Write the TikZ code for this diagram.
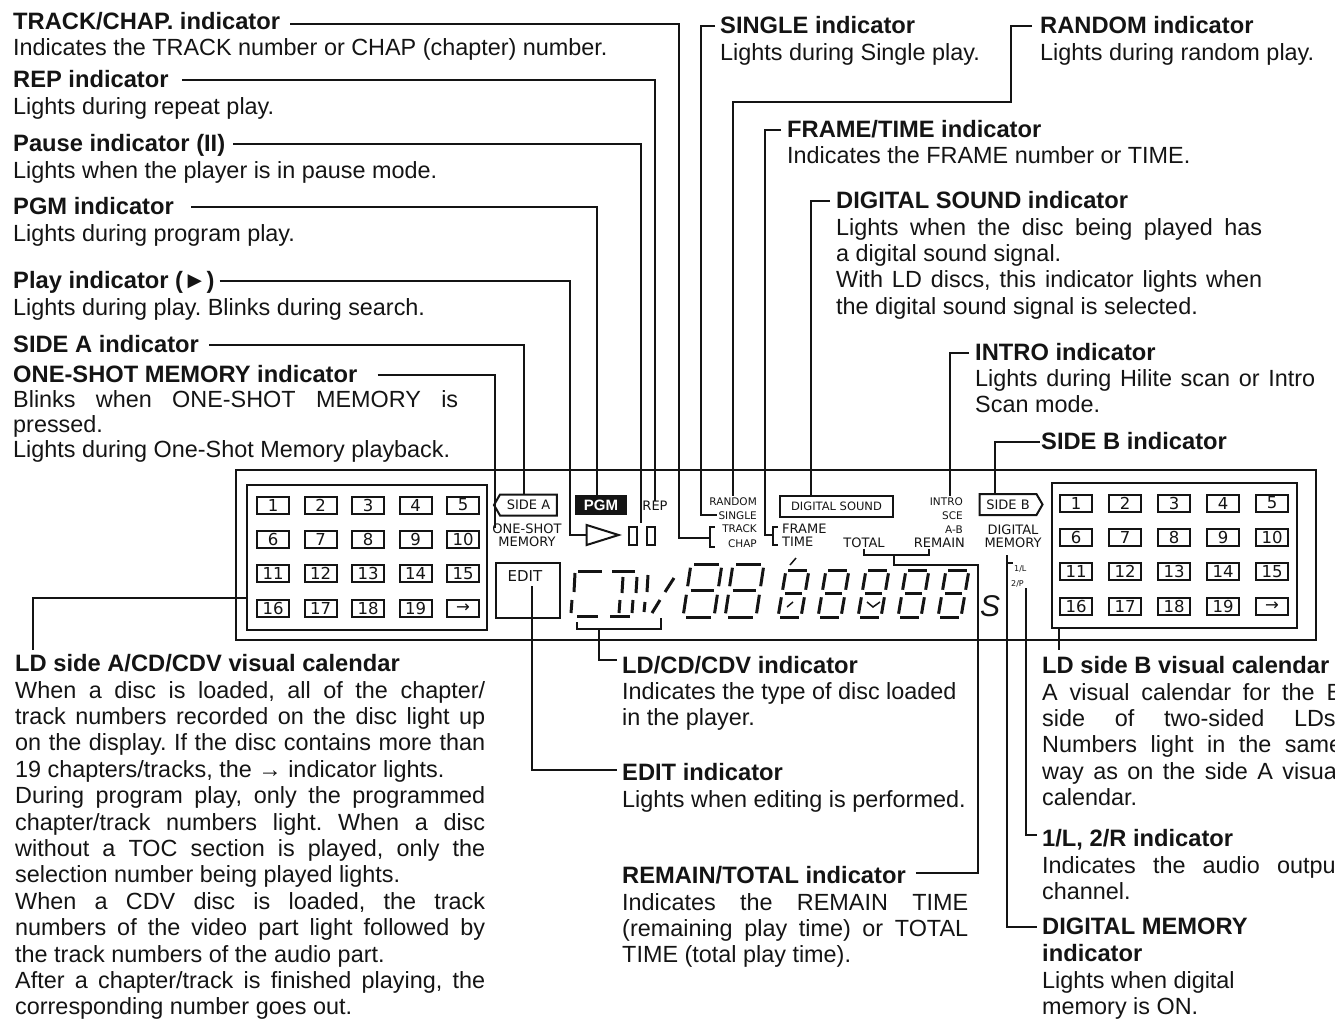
\documentclass[tikz,border=0pt]{standalone}
\usepackage{fontspec}
\setmainfont{Liberation Sans}
\newfontfamily\lcdfont{DejaVu Sans}
\usetikzlibrary{positioning, shapes.geometric, shapes.symbols}
\definecolor{ink}{HTML}{141414}
\tolerance=10000
\hyphenpenalty=10000
\frenchspacing

\newcommand{\lcddigit}[4]{%
  \foreach \ua/\va/\ub/\vb in {.1/1/.9/1, .12/.5/.88/.5, .1/0/.9/0, 0/.93/0/.58, 1/.93/1/.58, 0/.42/0/.07, 1/.42/1/.07}
    \draw[lcdseg] ({#1+\ua*#3+\va*8},{#2-\va*#4}) -- ({#1+\ub*#3+\vb*8},{#2-\vb*#4});%
}

\begin{document}
\begin{tikzpicture}[
    x=1pt, y=-1pt,
    color=ink,
    titletext/.style={
        anchor=base west,
        inner sep=0pt,
        text height=19pt,
        text depth=5pt,
        font=\bfseries\fontsize{23.7}{26}\selectfont
    },
    bodytext/.style={
        inner sep=0pt,
        align=justify,
        text width=#1,
        font=\fontsize{23.4}{26.4}\selectfont
    },
    bodytext/.default=610pt,
    leader/.style={draw, line width=1.9pt},
    fromtitle/.style={leader, shorten <=10pt},
    totitle/.style={leader, shorten >=5pt},
    lcdtext/.style={
        inner sep=1pt,
        text height=8pt,
        text depth=0pt,
        font=\lcdfont\fontsize{10.5}{11}\selectfont
    },
    lcdwide/.style={lcdtext, font=\lcdfont\fontsize{13}{13}\selectfont},
    lcdbox/.style={draw, line width=2pt, inner sep=0pt},
    lcdtag/.style={
        lcdbox,
        signal,
        signal to=#1,
        signal pointer angle=120,
        minimum width=63pt,
        minimum height=21pt,
        font=\lcdfont\fontsize{13}{13}\selectfont
    },
    lcdseg/.style={line width=3pt},
    thinmark/.style={line width=1.5pt},
    calframe/.style={draw, line width=2.6pt, inner sep=0pt},
    calcell/.style={
        draw,
        line width=2pt,
        inner sep=0pt,
        minimum width=32pt,
        minimum height=17pt,
        font=\lcdfont\fontsize{16.5}{17}\selectfont
    }
]
\useasboundingbox (0,0) rectangle (1335,1023);

\node[draw, line width=2.6pt, inner sep=0pt, minimum width=1080pt, minimum height=170pt] (display) at (776,555) {};
\node[calframe, minimum width=240pt, minimum height=145pt] (calA) at (367,557.5) {};
\node[calframe, minimum width=245pt, minimum height=145pt] (calB) at (1174.5,555.5) {};

\foreach \lbl [count=\n from 0] in {1,2,3,4,5,6,7,8,9,10,11,12,13,14,15,16,17,18,19,→} {
    \pgfmathtruncatemacro{\col}{mod(\n,5)}
    \pgfmathtruncatemacro{\row}{int(\n/5)}
    \node[calcell] (cellA\n) at ({273+47.5*\col},{505+34.4*\row}) {\lbl};
    \node[calcell] (cellB\n) at ({1076+49*\col},{503+34.4*\row}) {\lbl};
}

\node[lcdtag=west] (iSideA) at (528.5,505) {SIDE A};
\node[lcdtag=east] (iSideB) at (1008,504.5) {SIDE B};
\node[fill=ink, text=white, inner sep=0pt, minimum width=52pt, minimum height=20pt, font=\bfseries\fontsize{15}{16}\selectfont] (iPgm) at (601,505) {PGM};
\node[lcdwide] (iRep) at (655,506) {REP};
\node[lcdwide, align=center] (iOneShot) at (527,542) {ONE-SHOT\\MEMORY};
\node[draw, line width=2pt, isosceles triangle, isosceles triangle stretches, inner sep=0pt, minimum width=20pt, minimum height=32pt] (iPlay) at (594,535) {};
\node[lcdbox, minimum width=8pt, minimum height=18pt] (iPauseA) at (633,536) {};
\node[lcdbox, minimum width=8pt, minimum height=18pt] (iPauseB) at (651,536) {};
\node[lcdbox, minimum width=64pt, minimum height=55pt] (iEdit) at (528,590.5) {};
\node[lcdtext, font=\lcdfont\fontsize{15}{15}\selectfont] (iEditText) at (525,577) {EDIT};
\node[lcdtext, anchor=east] (iRandom) at (758,501) {RANDOM};
\node[lcdtext, anchor=east] (iSingle) at (758,515) {SINGLE};
\node[lcdtext, anchor=east] (iTrack) at (758,528) {TRACK};
\node[lcdtext, anchor=east] (iChap) at (758,543) {CHAP};
\node[lcdwide, anchor=west] (iFrame) at (781,529) {FRAME};
\node[lcdwide, anchor=west] (iTime) at (781,542) {TIME};
\node[lcdbox, minimum width=113pt, minimum height=21pt, font=\lcdfont\fontsize{11.5}{12}\selectfont] (iDigital) at (836.5,506.5) {DIGITAL SOUND};
\node[lcdtext, anchor=east] (iIntro) at (964,501) {INTRO};
\node[lcdtext, anchor=east] (iSce) at (964,515) {SCE};
\node[lcdtext, anchor=east] (iAb) at (964,529) {A-B};
\node[lcdwide] (iTotal) at (864,543) {TOTAL};
\node[lcdwide, anchor=east] (iRemain) at (966,543) {REMAIN};
\node[lcdwide, align=center] (iMemory) at (1013,543.5) {DIGITAL\\MEMORY};
\node[lcdtext, anchor=west, font=\lcdfont\fontsize{8}{9}\selectfont] (iOneL) at (1013,567) {1/L};
\node[lcdtext, anchor=west, font=\lcdfont\fontsize{8}{9}\selectfont] (iTwoR) at (1010,582) {2/P};
\node[inner sep=0pt, font=\itshape\fontsize{30}{30}\selectfont] (iSecond) at (990,606) {S};

\lcddigit{683}{617}{31}{53}
\lcddigit{725}{617}{31}{53}
\foreach \dx in {778,818,858,898,938} {
    \lcddigit{\dx}{617}{23}{47}
}

\foreach \xa/\ya/\xb/\yb in {578/571/602/571, 575/573/574/592, 572/600/571/613, 577/616/598/616,
    612/571/635/571, 623/577/622/593, 637/577/636/593, 620/600/619/613, 633/600/632/613, 610/616/630/616,
    648/575/647/592, 645/602/644/612, 660/600/652/613, 674/578/665/592}
    \draw[lcdseg] (\xa,\ya) -- (\xb,\yb);
\draw[thinmark] (796,558) -- (790,565);
\draw[thinmark] (793,602) -- (787,607);
\draw[thinmark] (867,602) -- (873,607) -- (880,602);

\coordinate (brTrack) at (710,538);
\coordinate (brFrame) at (773,535);
\coordinate (brLd) at (599,629);
\coordinate (brRemain) at (894,555);
\coordinate (portCalA) at (247,598);
\coordinate (endCalA) at (33,650);
\coordinate (portCalB) at (1059,628);
\coordinate (endCalB) at (1059,650);
\coordinate (portEdit) at (532,586);
\coordinate (portOneShot) at (495,528);
\coordinate (portOneTwo) at (1026,588);
\coordinate (portMemory) at (1007,555);
\coordinate (portPause) at (641,523);

\draw[leader] (715,527) -- (710,527) -- (710,547) -- (715,547);
\draw[leader] (778,527) -- (773,527) -- (773,545) -- (778,545);
\draw[leader] (577,622) -- (577,629) -- (661,629) -- (661,618);
\draw[leader] (864,549) -- (864,555) -- (929,555) -- (929,549);
\draw[thinmark] (1007,563) -- (1013,563);

\node[titletext] (tTrack) at (13,29) {TRACK/CHAP. indicator};
\node[bodytext, below=26pt of tTrack.base west, anchor=base west] (bTrack) {Indicates the TRACK number or CHAP (chapter) number.};
\node[titletext] (tRep) at (13,87) {REP indicator};
\node[bodytext, below=27pt of tRep.base west, anchor=base west] (bRep) {Lights during repeat play.};
\node[titletext] (tPause) at (13,151) {Pause indicator (II)};
\node[bodytext, below=27pt of tPause.base west, anchor=base west] (bPause) {Lights when the player is in pause mode.};
\node[titletext] (tPgm) at (13,214) {PGM indicator};
\node[bodytext, below=27pt of tPgm.base west, anchor=base west] (bPgm) {Lights during program play.};
\node[titletext] (tPlay) at (13,288) {Play indicator (►)};
\node[bodytext, below=27pt of tPlay.base west, anchor=base west] (bPlay) {Lights during play. Blinks during search.};
\node[titletext] (tSideA) at (13,352) {SIDE A indicator};
\node[titletext] (tOneShot) at (13,382) {ONE-SHOT MEMORY indicator};
\node[bodytext=445pt, below=25pt of tOneShot.base west, anchor=base west, font=\fontsize{23.4}{25.2}\selectfont] (bOneShot) {Blinks when ONE-SHOT MEMORY is\linebreak pressed.\\ Lights during One-Shot Memory playback.};

\node[titletext] (tSingle) at (720,33) {SINGLE indicator};
\node[bodytext=270pt, below=27pt of tSingle.base west, anchor=base west] (bSingle) {Lights during Single play.};
\node[titletext] (tRandom) at (1040,33) {RANDOM indicator};
\node[bodytext=290pt, below=27pt of tRandom.base west, anchor=base west] (bRandom) {Lights during random play.};
\node[titletext] (tFrame) at (787,137) {FRAME/TIME indicator};
\node[bodytext=500pt, below=26pt of tFrame.base west, anchor=base west] (bFrame) {Indicates the FRAME number or TIME.};
\node[titletext] (tDigital) at (836,208) {DIGITAL SOUND indicator};
\node[bodytext=426pt, below=27pt of tDigital.base west, anchor=base west] (bDigital) {Lights when the disc being played has\linebreak a digital sound signal.\\ With LD discs, this indicator lights when\linebreak the digital sound signal is selected.};
\node[titletext] (tIntro) at (975,360) {INTRO indicator};
\node[bodytext=340pt, below=26pt of tIntro.base west, anchor=base west] (bIntro) {Lights during Hilite scan or Intro\linebreak Scan mode.};
\node[titletext] (tSideB) at (1041,449) {SIDE B indicator};

\node[titletext] (tCalA) at (15,671) {LD side A/CD/CDV visual calendar};
\node[bodytext=470pt, below=27pt of tCalA.base west, anchor=base west] (bCalA) {When a disc is loaded, all of the chapter/\linebreak
    track numbers recorded on the disc light up\linebreak
    on the display. If the disc contains more than\linebreak
    19 chapters/tracks, the → indicator lights.\\
    During program play, only the programmed\linebreak
    chapter/track numbers light. When a disc\linebreak
    without a TOC section is played, only the\linebreak
    selection number being played lights.\\
    When a CDV disc is loaded, the track\linebreak
    numbers of the video part light followed by\linebreak
    the track numbers of the audio part.\\
    After a chapter/track is finished playing, the\linebreak
    corresponding number goes out.};
\node[titletext] (tLd) at (622,673) {LD/CD/CDV indicator};
\node[bodytext=345pt, below=26pt of tLd.base west, anchor=base west] (bLd) {Indicates the type of disc loaded\\ in the player.};
\node[titletext] (tEdit) at (622,780) {EDIT indicator};
\node[bodytext=345pt, below=27pt of tEdit.base west, anchor=base west] (bEdit) {Lights when editing is performed.};
\node[titletext] (tRemain) at (622,883) {REMAIN/TOTAL indicator};
\node[bodytext=346pt, below=27pt of tRemain.base west, anchor=base west] (bRemain) {Indicates the REMAIN TIME\linebreak (remaining play time) or TOTAL\linebreak TIME (total play time).};
\node[titletext] (tCalB) at (1042,673) {LD side B visual calendar};
\node[bodytext=300pt, below=27pt of tCalB.base west, anchor=base west] (bCalB) {A visual calendar for the B\linebreak side of two-sided LDs.\linebreak Numbers light in the same\linebreak way as on the side A visual\linebreak calendar.};
\node[titletext] (tOneTwo) at (1042,846) {1/L, 2/R indicator};
\node[bodytext=300pt, below=27pt of tOneTwo.base west, anchor=base west] (bOneTwo) {Indicates the audio output\linebreak channel.};
\node[titletext] (tMemory) at (1042,934) {DIGITAL MEMORY};
\node[titletext, below=27pt of tMemory.base west, anchor=base west] (tMemoryB) {indicator};
\node[bodytext=280pt, below=27pt of tMemoryB.base west, anchor=base west] (bMemory) {Lights when digital\\ memory is ON.};

\draw[fromtitle] ([yshift=-2pt]tTrack.east) -| (679,538) -- (brTrack);
\draw[fromtitle, shorten <=13pt] (tRep.east) -| (iRep.north);
\draw[fromtitle, shorten <=8pt] (tPause.east) -| (portPause);
\draw[fromtitle, shorten <=17pt] (tPgm.east) -| ([xshift=-4pt]iPgm.north);
\draw[fromtitle, shorten <=5pt] (tPlay.east) -| (570,535) -- (iPlay.west);
\draw[fromtitle] (tSideA.east) -| ([xshift=-4.5pt]iSideA.north);
\draw[fromtitle, shorten <=20pt] (tOneShot.east) -| (portOneShot);
\draw[fromtitle, shorten <=5pt] (tSingle.west) -| (701,515) -- (iSingle.west);
\draw[fromtitle, shorten <=8pt] (tRandom.west) -| (1011,102) -| (iRandom.north);
\draw[fromtitle, shorten <=6pt] (tFrame.west) -| (765,535) -- (brFrame);
\draw[fromtitle, shorten <=6pt] (tDigital.west) -| ([xshift=-25.5pt]iDigital.north);
\draw[fromtitle, shorten <=6pt] (tIntro.west) -| ([xshift=4pt]iIntro.north);
\draw[fromtitle, shorten <=1pt] (tSideB.west) -| ([xshift=-13pt]iSideB.north);
\draw[leader] (endCalA) |- (portCalA);
\draw[leader] (portCalB) -- (endCalB);
\draw[totitle] (portEdit) |- ([yshift=3pt]tEdit.west);
\draw[totitle] (brLd) |- ([yshift=6pt]tLd.west);
\draw[fromtitle] ([yshift=3pt]tRemain.east) -| (978,565) -| (brRemain);
\draw[totitle] (portOneTwo) |- ([yshift=4pt]tOneTwo.west);
\draw[totitle] (portMemory) |- (tMemory.west);

\end{tikzpicture}
\end{document}
